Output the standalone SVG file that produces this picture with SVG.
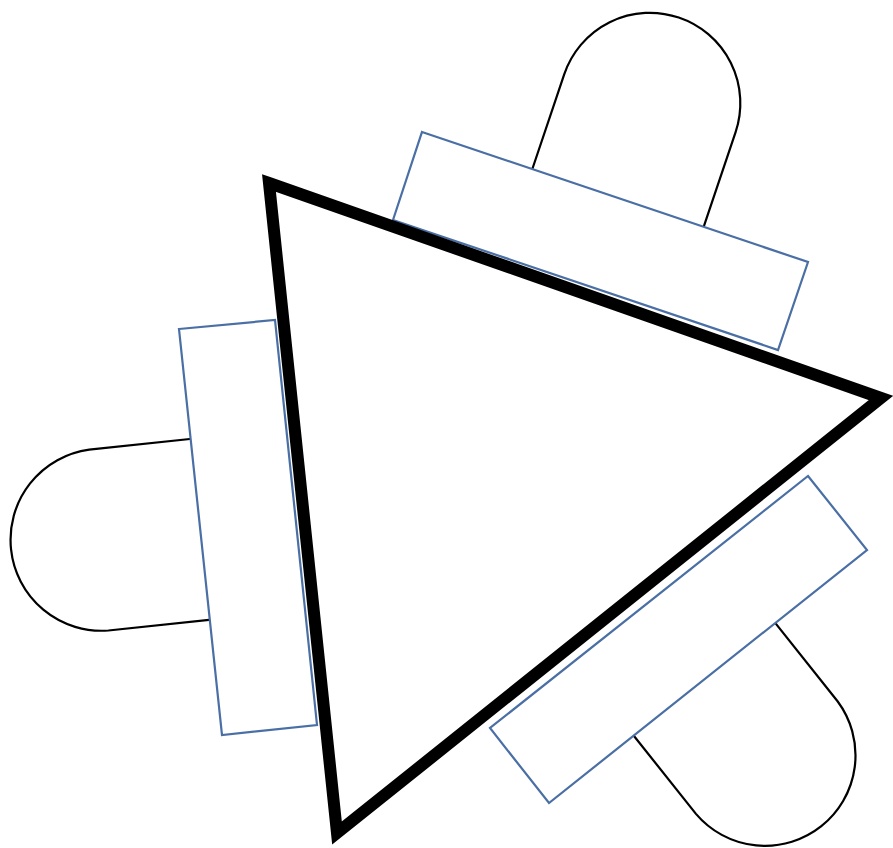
<svg xmlns="http://www.w3.org/2000/svg" width="893" height="848" viewBox="0 0 893 848">
<style>
.tab{fill:#fff;stroke:#000;stroke-width:2.2}
.plate{fill:#fff;stroke:#4a6fa5;stroke-width:2.2}
.tri{fill:#fff;stroke:#000;stroke-width:12;stroke-linejoin:miter}
</style>
<rect width="893" height="848" fill="#fff"/>
<g id="tab-top"><path class="tab" d="M531,173 L564.2,74.4 A90.4,90.4 0 0 1 735.6,132.1 L702.4,230.7"/></g>
<g id="tab-left"><path class="tab" d="M194.6,438.5 L89.2,449.6 A91,91 0 0 0 108.4,630.5 L213.8,619.4"/></g>
<g id="tab-bottom"><path class="tab" d="M772.8,619.9 L837.55,701.25 A90.5,90.5 0 0 1 695.95,813.85 L631.2,732.5"/></g>
<g id="plate-top"><polygon class="plate" points="422,132 808,262 778,350 393,220"/></g>
<g id="plate-left"><polygon class="plate" points="179,329 275,320 317,725 222,735"/></g>
<g id="plate-bottom"><polygon class="plate" points="808,476 867,550 549,803 490,728"/></g>
<g id="triangle"><polygon class="tri" points="269,183 881,398 337,833"/></g>
<g id="connectors"></g>
</svg>
